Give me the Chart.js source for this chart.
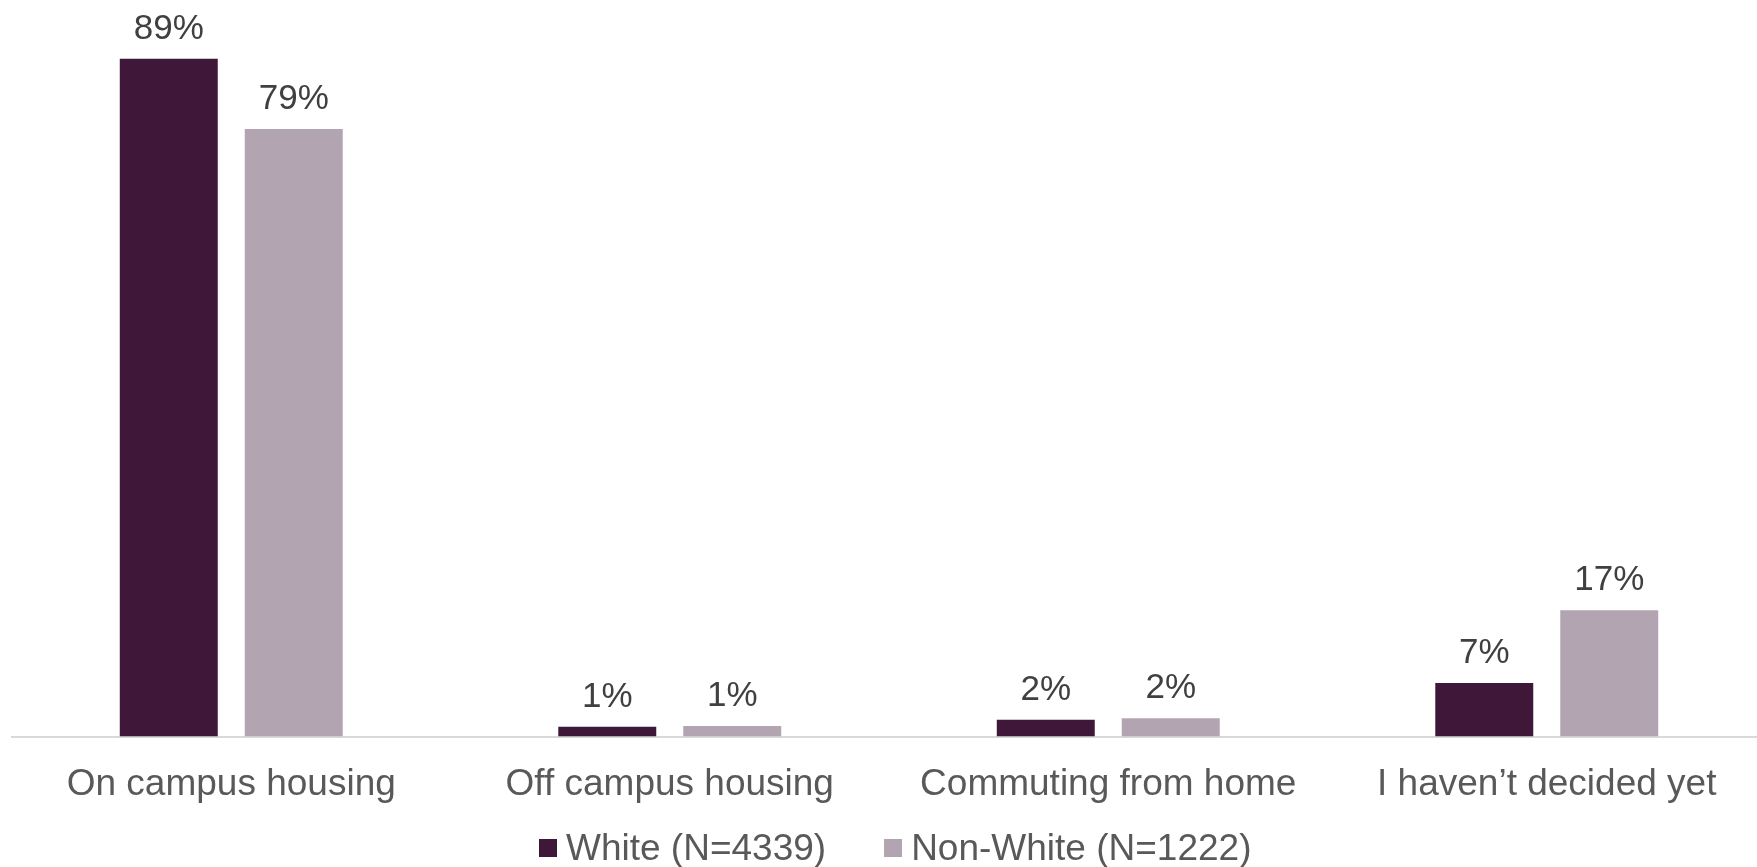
<!DOCTYPE html>
<html>
<head>
<meta charset="utf-8">
<script src="https://cdn.jsdelivr.net/npm/chart.js@4/dist/chart.umd.min.js"></script>
<style>
  html, body { margin: 0; padding: 0; background: #fff; overflow: hidden; }
  #wrap { position: relative; width: 1770px; height: 867px; }
  #legend {
    position: absolute; left: 539px; top: 826px;
    display: flex; align-items: center;
    font-family: "Liberation Sans", Arial, sans-serif; font-size: 37px; color: #595959;
    line-height: 44px; white-space: nowrap;
  }
  .item { display: flex; align-items: center; margin-right: 58px; }
  .swatch { width: 18px; height: 18px; margin-right: 9px; }
</style>
</head>
<body>
<div id="wrap">
  <canvas id="housingChart"></canvas>
  <div id="legend"></div>
</div>
<script>
const categories = ['On campus housing', 'Off campus housing', 'Commuting from home', 'I haven\u2019t decided yet'];
const whiteValues = [88.6, 1.3, 2.2, 7.0];
const nonWhiteValues = [79.4, 1.4, 2.4, 16.5];
const seriesNames = ['White (N=4339)', 'Non-White (N=1222)'];
const seriesColors = ['#3F1839', '#B3A4B2'];

// draws the "89%" style labels above each bar
const barLabels = {
  id: 'barLabels',
  afterDatasetsDraw(chart) {
    const ctx = chart.ctx;
    ctx.save();
    ctx.font = '35px "Liberation Sans", Arial, sans-serif';
    ctx.fillStyle = '#404040';
    ctx.textAlign = 'center';
    ctx.textBaseline = 'alphabetic';
    chart.data.datasets.forEach((ds, i) => {
      chart.getDatasetMeta(i).data.forEach((bar, j) => {
        ctx.fillText(Math.round(ds.data[j]) + '%', bar.x, bar.y - 20);
      });
    });
    ctx.restore();
  }
};

const ctx = document.getElementById('housingChart').getContext('2d');
const chart = new Chart(ctx, {
  type: 'bar',
  data: {
    labels: categories,
    datasets: [
      {
        label: seriesNames[0],
        data: whiteValues,
        backgroundColor: seriesColors[0],
        categoryPercentage: 0.57,
        barPercentage: 0.784
      },
      {
        label: seriesNames[1],
        data: nonWhiteValues,
        backgroundColor: seriesColors[1],
        categoryPercentage: 0.57,
        barPercentage: 0.784
      }
    ]
  },
  options: {
    responsive: true,
    maintainAspectRatio: false,
    animation: false,
    layout: { padding: { top: 48, left: 12, right: 4, bottom: 34 } },
    plugins: {
      legend: { display: false },
      tooltip: { enabled: false }
    },
    scales: {
      x: {
        grid: { display: false, drawTicks: false },
        border: { display: true, color: '#D9D9D9', width: 2 },
        ticks: {
          color: '#595959',
          padding: 26,
          font: { size: 37, family: '"Liberation Sans", Arial, sans-serif' }
        }
      },
      y: {
        display: false,
        min: 0,
        max: 90
      }
    }
  },
  plugins: [barLabels]
});

// legend as html, built from the dataset names/colours
const legendEl = document.getElementById('legend');
chart.data.datasets.forEach(ds => {
  const item = document.createElement('div');
  item.className = 'item';
  item.innerHTML = `<span class="swatch" style="background:${ds.backgroundColor}"></span><span>${ds.label}</span>`;
  legendEl.appendChild(item);
});
</script>
</body>
</html>
